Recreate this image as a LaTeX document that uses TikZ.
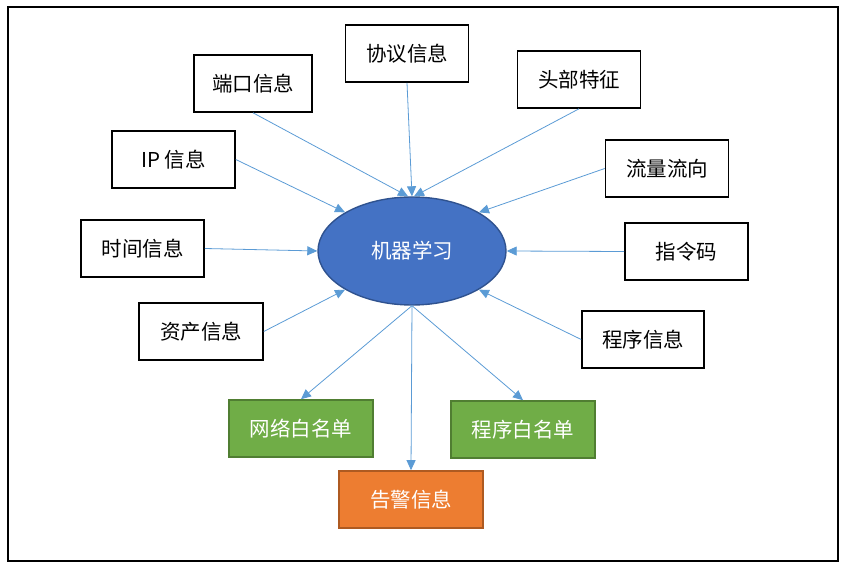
\documentclass[tikz,border=0pt]{standalone}
\usepackage{fontspec}
\setmainfont{Noto Sans CJK SC}
\usetikzlibrary{arrows.meta,shapes.geometric}
\definecolor{arrowblue}{RGB}{91,155,213}
\definecolor{mlblue}{RGB}{68,114,196}
\definecolor{mlborder}{RGB}{47,82,143}
\definecolor{wlgreen}{RGB}{112,173,71}
\definecolor{wlborder}{RGB}{80,126,50}
\definecolor{alorange}{RGB}{237,125,49}
\definecolor{alborder}{RGB}{174,90,33}
\begin{document}
\begin{tikzpicture}[x=1pt,y=-1pt,
  infobox/.style={draw=black,line width=1.6pt,fill=white,minimum width=123pt,minimum height=57pt,font=\fontsize{20.5}{24}\selectfont},
  outbox/.style={line width=1.6pt,minimum width=144pt,minimum height=57pt,text=white,font=\fontsize{20.5}{24}\selectfont},
  link/.style={draw=arrowblue,line width=0.8pt,-{Triangle[length=10pt,width=9pt]}}]
\useasboundingbox (0,0) rectangle (847,569);
\draw[line width=1.2pt] (8,7) rectangle (838,561);
% the centre
\node[ellipse,draw=mlborder,line width=1.4pt,fill=mlblue,minimum width=188pt,minimum height=108pt,inner sep=0pt,text=white,font=\fontsize{20.5}{24}\selectfont] (ml) at (412,251) {机器学习};
% inputs
\node[infobox,minimum width=118pt] (port) at (253,83.5) {端口信息};
\node[infobox] (proto) at (407,53.5) {协议信息};
\node[infobox] (head) at (579,79.5) {头部特征};
\node[infobox] (ip) at (173.5,159.5) {IP 信息};
\node[infobox] (flow) at (667,168.5) {流量流向};
\node[infobox] (time) at (142.5,248.5) {时间信息};
\node[infobox] (cmd) at (686.5,251.5) {指令码};
\node[infobox,minimum width=124pt] (asset) at (201,331.5) {资产信息};
\node[infobox,minimum width=122pt] (prog) at (643,339.5) {程序信息};
% outputs
\node[outbox,draw=wlborder,fill=wlgreen] (netwl) at (301,428.5) {网络白名单};
\node[outbox,draw=wlborder,fill=wlgreen] (progwl) at (523,429.5) {程序白名单};
\node[outbox,draw=alborder,fill=alorange] (alarm) at (411,499.5) {告警信息};
% links
\draw[link] (port.south) -- ([xshift=-4pt]ml.north);
\draw[link] (proto.south) -- (ml.north);
\draw[link] (head.south) -- ([xshift=2pt]ml.north);
\draw[link] (ip.east) -- (ml.150);
\draw[link] (flow.west) -- (ml.30);
\draw[link] (time.east) -- (ml.west);
\draw[link] (cmd.west) -- (ml.east);
\draw[link] (asset.east) -- (ml.210);
\draw[link] (prog.west) -- (ml.330);
\draw[link] (ml.south) -- (netwl.north);
\draw[link] (ml.south) -- (alarm.north);
\draw[link] (ml.south) -- (progwl.north);
\end{tikzpicture}
\end{document}
